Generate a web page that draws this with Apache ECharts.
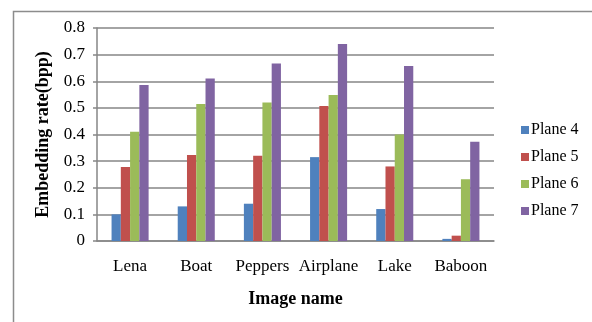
<!DOCTYPE html>
<html>
<head>
<meta charset="utf-8">
<script src="https://cdn.jsdelivr.net/npm/echarts@6/dist/echarts.min.js"></script>
<style>
  html, body { margin: 0; padding: 0; background: #fff; }
  #chart { width: 592px; height: 322px; }
</style>
</head>
<body>
<div id="chart"></div>
<script>
// Embedding rate per test image for bit planes 4–7
const images = ['Lena', 'Boat', 'Peppers', 'Airplane', 'Lake', 'Baboon'];
const plane4 = [0.10, 0.13, 0.14, 0.315, 0.12, 0.008];
const plane5 = [0.278, 0.323, 0.32, 0.507, 0.28, 0.02];
const plane6 = [0.41, 0.515, 0.52, 0.548, 0.40, 0.232];
const plane7 = [0.586, 0.61, 0.667, 0.74, 0.657, 0.373];
const seriesNames = ['Plane 4', 'Plane 5', 'Plane 6', 'Plane 7'];
const yTicks = [0, 0.1, 0.2, 0.3, 0.4, 0.5, 0.6, 0.7, 0.8];

const colors = ['#4F81BD', '#C0504D', '#9BBB59', '#8064A2'];
const serif = '"Liberation Serif", "Times New Roman", serif';

const chart = echarts.init(document.getElementById('chart'));
const values = [plane4, plane5, plane6, plane7];

chart.setOption({
  animation: false,
  color: colors,
  textStyle: { fontFamily: serif, color: '#000' },
  graphic: [{
    type: 'rect',
    shape: { x: 13.5, y: 11.5, width: 600, height: 400 },
    style: { fill: 'none', stroke: '#8c8c8c', lineWidth: 1.5 },
    silent: true
  }],
  legend: {
    orient: 'vertical',
    left: 516,
    top: 117,
    itemWidth: 8,
    itemHeight: 8,
    itemGap: 11,
    icon: 'rect',
    textStyle: { fontFamily: serif, fontSize: 16, color: '#000', padding: [0, 0, 0, -3] },
    data: seriesNames
  },
  grid: { left: 97, right: 98, top: 28, bottom: 81 },
  xAxis: {
    type: 'category',
    data: images,
    name: 'Image name',
    nameLocation: 'middle',
    nameGap: 49,
    nameTextStyle: { fontFamily: serif, fontSize: 18, fontWeight: 'bold', color: '#000' },
    axisLine: { show: true, lineStyle: { color: '#868686', width: 1.5 } },
    axisTick: { show: false },
    axisLabel: { fontFamily: serif, fontSize: 17, color: '#000', margin: 17, interval: 0 }
  },
  yAxis: {
    type: 'value',
    min: 0,
    max: 0.8,
    interval: 0.1,
    name: 'Embedding rate(bpp)',
    nameLocation: 'middle',
    nameGap: 45,
    nameTextStyle: { fontFamily: serif, fontSize: 18, fontWeight: 'bold', color: '#000' },
    axisLine: { show: true, lineStyle: { color: '#868686', width: 1.5 } },
    axisTick: { show: true, length: 4, lineStyle: { color: '#868686', width: 1.5 } },
    splitLine: { show: true, lineStyle: { color: '#868686', width: 1.5 } },
    axisLabel: {
      fontFamily: serif, fontSize: 17, color: '#000', margin: 12,
      formatter: function (v) {
        const t = yTicks.find(x => Math.abs(x - v) < 1e-9);
        return t === undefined ? '' : String(t);
      }
    }
  },
  series: seriesNames.map((name, i) => ({
    name: name,
    type: 'bar',
    data: values[i],
    barGap: '0%',
    barCategoryGap: '44%',
    itemStyle: { color: colors[i] }
  }))
});
</script>
</body>
</html>
